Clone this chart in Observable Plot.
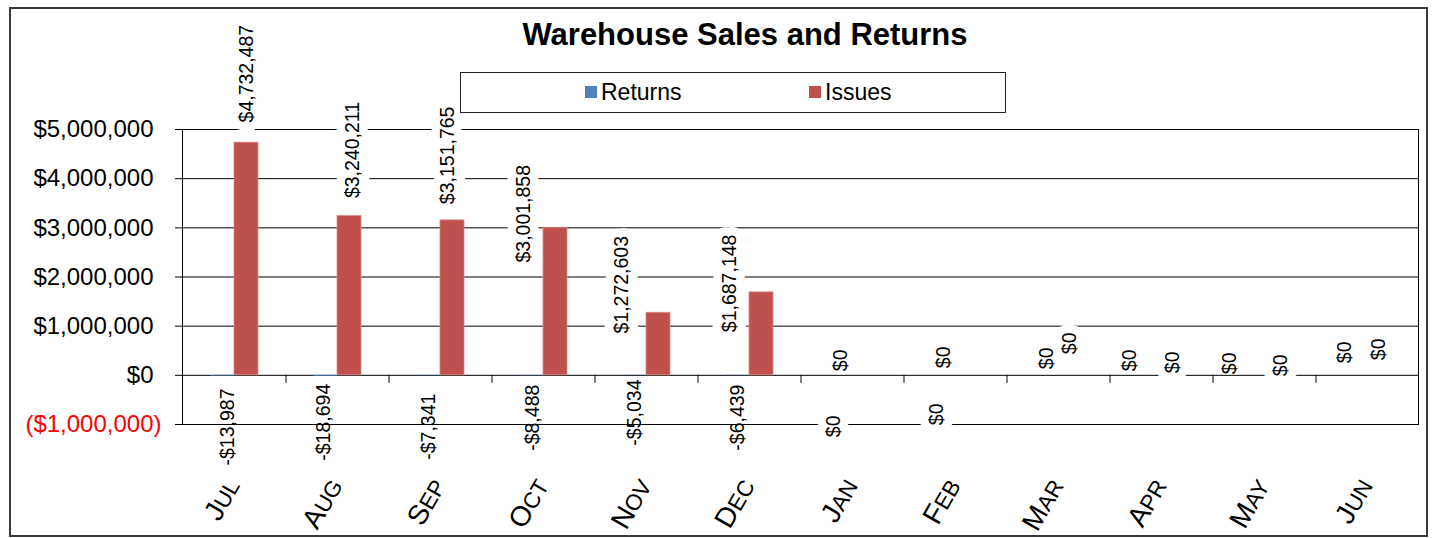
<!DOCTYPE html>
<html><head><meta charset="utf-8">
<script src="https://cdn.jsdelivr.net/npm/d3@7"></script>
<script src="https://cdn.jsdelivr.net/npm/@observablehq/plot@0.6"></script>
<style>
body{margin:0;background:#fff;font-family:"Liberation Sans",Arial,sans-serif;}
#wrap{position:relative;width:1432px;height:538px;overflow:hidden;background:#fff;}
#chart svg{position:absolute;left:0;top:0;}
.border{position:absolute;left:9px;top:7px;width:1419px;height:530px;box-sizing:border-box;border:2px solid #3a3a3a;pointer-events:none;}
.title{position:absolute;left:345px;width:800px;top:19px;text-align:center;font-weight:bold;font-size:31px;line-height:31px;color:#000;}
.legend{position:absolute;left:460px;top:72px;width:546px;height:41px;box-sizing:border-box;border:1px solid #222;background:#fff;}
.sw{position:absolute;top:13px;width:12px;height:12px;}
.lt{position:absolute;top:8px;font-size:23px;line-height:23px;color:#000;white-space:nowrap;}
</style>
</head><body>
<div id="wrap">
  <div id="chart"></div>
  <div class="title" id="title"></div>
  <div class="legend" id="legend"></div>
  <div class="border"></div>
</div>
<script>
// ---- data ----
const chartTitle = "Warehouse Sales and Returns";
const months = ["Jul","Aug","Sep","Oct","Nov","Dec","Jan","Feb","Mar","Apr","May","Jun"];
const seriesNames = ["Returns","Issues"];
const seriesColors = ["#4F81BD","#C0504D"];
const returns = [-13987,-18694,-7341,-8488,-5034,-6439,0,0,0,0,0,0];
const issues = [4732487,3240211,3151765,3001858,1272603,1687148,0,0,0,0,0,0];
const yTicks = [-1000000,0,1000000,2000000,3000000,4000000,5000000];

// ---- layout (label nudges in px, as manually placed in the original) ----
const issuesLabelNudge = [[0,-69],[3,-66],[-5,-65],[-32,-14],[-37,-28],[-32,-9],[-31,51],[-31,39],[-1,-32],[-1,-13],[4,-10],[-1,-26]];
const returnsLabelNudge = [[5,51],[-2,46],[0,51],[1,42],[0,37],[0,42],[0,-15],[0,-18],[0,-17],[-20,-15],[-23,-12],[-11,-23]];

const W = 1432, H = 538, mL = 182, mR = 14, mT = 129, mB = 114;
const step = (W - mL - mR) / months.length;
const barW = 48;
const pIn = 1 - barW / step;
const bw = step * (1 - pIn);
const pxPerUnit = (H - mT - mB) / (d3.max(yTicks) - d3.min(yTicks));
const labelSize = 19.5, monthSize = 28, smallCapRatio = 0.8;

const table = months.map((m, i) => ({month: m, returns: returns[i], issues: issues[i]}));
const fmtMoney = v => (v < 0 ? "-" : "") + "$" + d3.format(",")(Math.abs(v));
const fmtAxis = v => v < 0 ? "($" + d3.format(",")(-v) + ")" : "$" + d3.format(",")(v);

const marks = [
  Plot.gridY(yTicks, {stroke: "#000", strokeOpacity: 1, strokeWidth: 1}),
  Plot.frame({stroke: "#000", strokeWidth: 1}),
  Plot.axisY(yTicks.filter(d => d >= 0), {tickSize: 7, tickPadding: 22, tickFormat: fmtAxis, fontSize: 24, stroke: "#000", fill: "#000", color: "#000"}),
  Plot.axisY(yTicks.filter(d => d < 0), {tickSize: 7, tickPadding: 14, tickFormat: fmtAxis, fontSize: 24, color: "#000", fill: "#FF0000"}),
  Plot.ruleX(months.slice(1), {x: d => d, dx: -step / 2, y1: 0, y2: -8 / pxPerUnit, stroke: "#000"}),
  Plot.barY(table, {x: "month", y: "returns", fill: seriesColors[0], insetRight: bw / 2}),
  Plot.barY(table, {x: "month", y: "issues", fill: seriesColors[1], insetLeft: bw / 2, stroke: "#d98a88", strokeWidth: 0.8}),
  Plot.text(table, {x: "month", frameAnchor: "bottom", text: "month", rotate: -60, textAnchor: "end", lineAnchor: "bottom", fontSize: monthSize, dx: 6, dy: 61, fill: "#000"})
];
issues.forEach((v, i) => {
  marks.push(Plot.text([table[i]], {x: "month", y: "issues", text: d => fmtMoney(d.issues), rotate: -90,
    dx: bw / 4 + issuesLabelNudge[i][0], dy: issuesLabelNudge[i][1], fontSize: labelSize, fill: "#000",
    stroke: "#fff", strokeWidth: 17, paintOrder: "stroke", strokeLinejoin: "round"}));
});
returns.forEach((v, i) => {
  marks.push(Plot.text([table[i]], {x: "month", y: "returns", text: d => fmtMoney(d.returns), rotate: -90,
    dx: -bw / 4 + returnsLabelNudge[i][0], dy: returnsLabelNudge[i][1], fontSize: labelSize, fill: "#000"}));
});

const chart = Plot.plot({
  width: W, height: H,
  marginLeft: mL, marginRight: mR, marginTop: mT, marginBottom: mB,
  style: {fontFamily: "'Liberation Sans', Arial, sans-serif", fontSize: "19px", background: "transparent", color: "#000", overflow: "visible"},
  x: {type: "band", domain: months, paddingInner: pIn, paddingOuter: pIn / 2, align: 0.5, axis: null},
  y: {domain: [d3.min(yTicks), d3.max(yTicks)], axis: null},
  marks
});

// Small-caps month labels (first letter full size, rest as reduced capitals)
const NS = "http://www.w3.org/2000/svg";
chart.querySelectorAll("text").forEach(t => {
  const s = t.textContent;
  if (months.includes(s)) {
    t.textContent = "";
    const a = document.createElementNS(NS, "tspan");
    a.textContent = s[0].toUpperCase();
    const b = document.createElementNS(NS, "tspan");
    b.textContent = s.slice(1).toUpperCase();
    b.setAttribute("font-size", monthSize * smallCapRatio);
    t.appendChild(a); t.appendChild(b);
  }
});
document.getElementById("chart").appendChild(chart);
document.getElementById("title").textContent = chartTitle;

const legendX = [[124, 140], [348, 364]];
const lg = document.getElementById("legend");
seriesNames.forEach((s, i) => {
  const sw = document.createElement("div");
  sw.className = "sw"; sw.style.left = legendX[i][0] + "px"; sw.style.background = seriesColors[i];
  const t = document.createElement("div");
  t.className = "lt"; t.style.left = legendX[i][1] + "px"; t.textContent = s;
  lg.appendChild(sw); lg.appendChild(t);
});
</script>
</body></html>
